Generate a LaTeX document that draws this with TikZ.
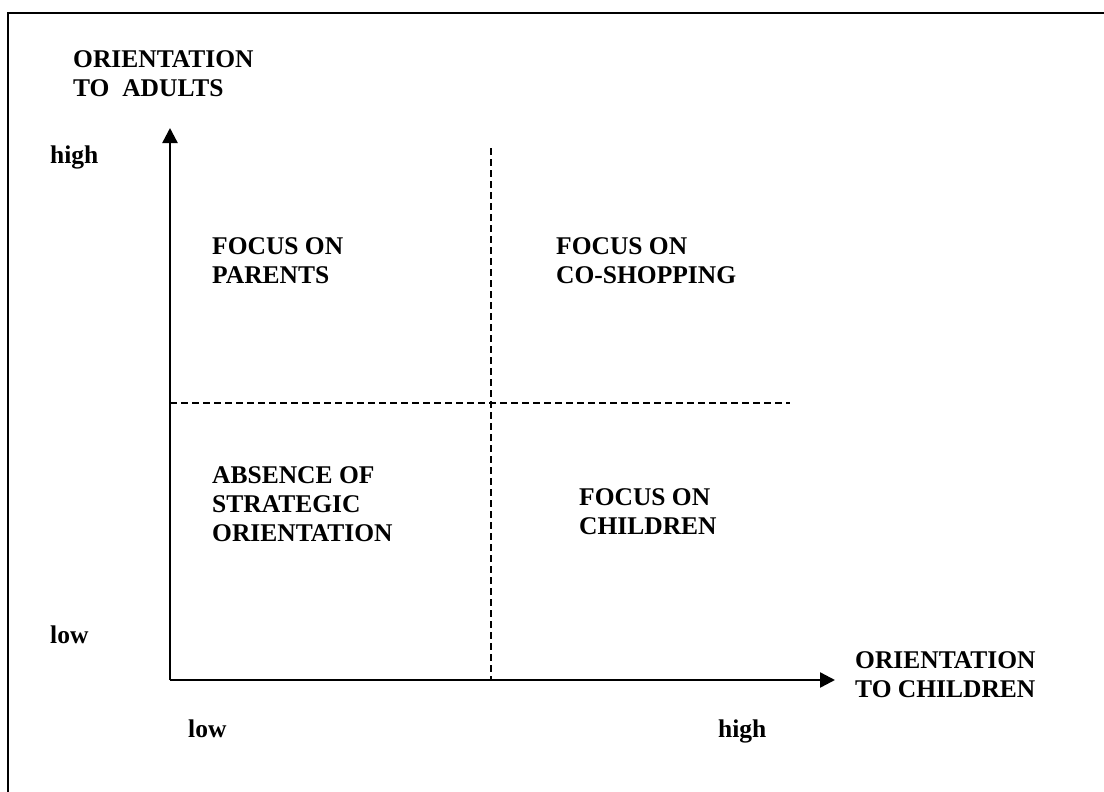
\documentclass[tikz,border=0pt]{standalone}
\usepackage{fontspec}
\setmainfont{Liberation Serif}
\usetikzlibrary{arrows.meta}

\begin{document}
\begin{tikzpicture}[
    x=1pt, y=-1pt,
    every node/.style={font=\fontsize{25.5}{29}\selectfont\bfseries, inner sep=0pt, anchor=base west, align=left},
    axis/.style={line width=2.4pt, -{Triangle[length=15pt, width=15pt]}},
    divider/.style={line width=1.6pt, dash pattern=on 7pt off 4pt},
    frame/.style={line width=2pt}
]
\useasboundingbox (0,0) rectangle (1104,792);

% Frame (only the top and left edges are on the page)
\coordinate (fbl) at (8,792);
\coordinate (ftl) at (8,13);
\coordinate (ftr) at (1104,13);
\draw[frame] (fbl) -- (ftl) -- (ftr);

% Axes
\coordinate (origin) at (170,680);
\coordinate (ytop) at (170,128);
\coordinate (xend) at (835,680);
\draw[axis] (origin) -- (ytop);
\draw[axis] (origin) -- (xend);

% Quadrant dividers
\coordinate (vtop) at (491,148);
\coordinate (vbot) at (491,680);
\coordinate (hleft) at (170,403);
\coordinate (hright) at (790,403);
\draw[divider] (vtop) -- (vbot);
\draw[divider] (hleft) -- (hright);

% Axis titles (multi-line nodes sit on their last baseline)
\node (ytitle) at (73,97) {ORIENTATION\\TO\ \ ADULTS};
\node (xtitle) at (855,697) {ORIENTATION\\TO CHILDREN};

% Scale ends
\node (yhigh) at (50,163) {high};
\node (ylow) at (50,643) {low};
\node (xlow) at (188,737) {low};
\node (xhigh) at (718,737) {high};

% Quadrants
\node (parents) at (212,283) {FOCUS ON\\PARENTS};
\node (coshop) at (556,283) {FOCUS ON\\CO-SHOPPING};
\node (absence) at (212,541) {ABSENCE OF\\STRATEGIC\\ORIENTATION};
\node (children) at (579,534) {FOCUS ON\\CHILDREN};

\end{tikzpicture}
\end{document}
